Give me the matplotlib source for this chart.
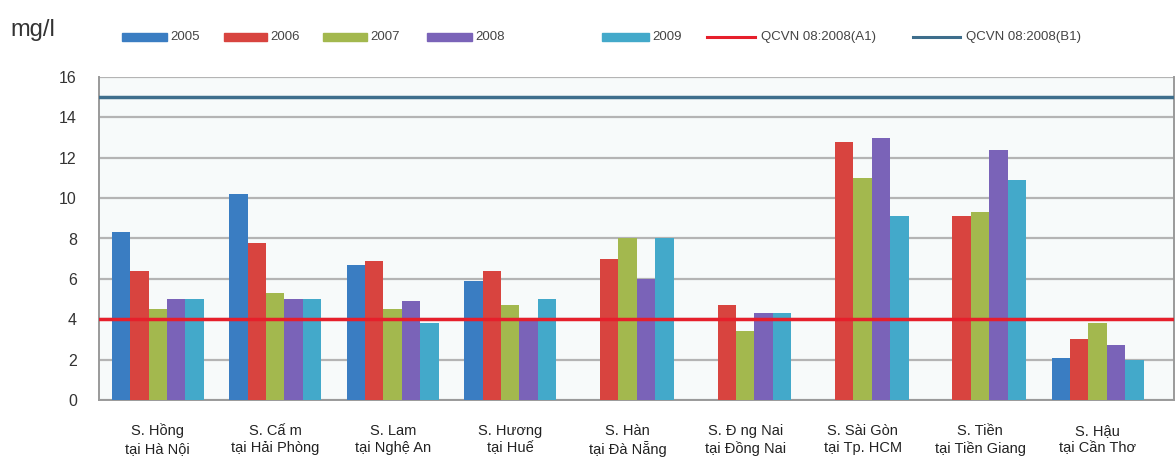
import numpy as np
import matplotlib.pyplot as plt
from matplotlib.patches import Rectangle
from matplotlib.lines import Line2D

plt.rcParams['font.family'] = ['Liberation Sans', 'DejaVu Sans']

# Sông / trạm quan trắc
stations = ['S. Hồng\ntại Hà Nội', 'S. Cấ m\ntại Hải Phòng', 'S. Lam\ntại Nghệ An',
            'S. Hương\ntại Huế', 'S. Hàn\ntại Đà Nẵng', 'S. Đ ng Nai\ntại Đồng Nai',
            'S. Sài Gòn\ntại Tp. HCM', 'S. Tiền\ntại Tiền Giang', 'S. Hậu\ntại Cần Thơ']
years = ['2005', '2006', '2007', '2008', '2009']

v2005 = [8.3, 10.2, 6.7, 5.9, np.nan, np.nan, np.nan, np.nan, 2.1]
v2006 = [6.4, 7.8, 6.9, 6.4, 7.0, 4.7, 12.8, 9.1, 3.0]
v2007 = [4.5, 5.3, 4.5, 4.7, 8.0, 3.4, 11.0, 9.3, 3.8]
v2008 = [5.0, 5.0, 4.9, 4.0, 6.0, 4.3, 13.0, 12.4, 2.7]
v2009 = [5.0, 5.0, 3.8, 5.0, 8.0, 4.3, 9.1, 10.9, 2.0]

qcvn_a1 = 4
qcvn_b1 = 15
line_labels = ['QCVN 08:2008(A1)', 'QCVN 08:2008(B1)']

colors = ['#3A7DC2', '#D8443F', '#A3B84E', '#7A63B8', '#43A9CA']
line_colors = ['#E61F2B', '#3E6E8C']
series = [v2005, v2006, v2007, v2008, v2009]

W, H = 1176, 461
fig = plt.figure(figsize=(W / 100, H / 100), dpi=100)
ax = fig.add_axes([99 / W, 1 - 400 / H, 1075 / W, 323 / H])
ax.set_facecolor('#F7FAFA')

x = np.arange(len(stations))
width = 0.157
for i, (vals, c) in enumerate(zip(series, colors)):
    ax.bar(x + (i - 2) * width, vals, width=width, color=c, zorder=3)

ax.axhline(qcvn_a1, color=line_colors[0], lw=2.5, zorder=4)
ax.axhline(qcvn_b1, color=line_colors[1], lw=2.5, zorder=4)

ax.set_xlim(-0.5, 8.65)
ax.set_ylim(0, 16)
ax.set_yticks(range(0, 17, 2))
ax.set_xticks(x)
ax.set_xticklabels(stations, fontsize=10.5, color='#222222', linespacing=1.3)
ax.tick_params(axis='x', length=0, pad=17)
ax.tick_params(axis='y', labelsize=11.5, labelcolor='#333333', length=0, pad=16)
ax.yaxis.grid(True, color='#B4B4B4', lw=1.6, zorder=0)
ax.spines['top'].set_visible(False)
for s in ['left', 'bottom', 'right']:
    ax.spines[s].set_color('#9A9A9A')
    ax.spines[s].set_linewidth(1.4)

fig.text(10 / W, 1 - 30 / H, 'mg/l', fontsize=17, color='#333333', va='center')

# légende dessinée à la main (espacement irrégulier comme l'original)
yc = 1 - 37 / H
hh = 8 / H
patch_x = [(122, 167), (224, 267), (323, 367), (427, 472), (602, 649)]
for (x0, x1), c, lab in zip(patch_x, colors, years):
    fig.patches.append(Rectangle((x0 / W, yc - hh / 2), (x1 - x0) / W, hh,
                                 transform=fig.transFigure, color=c))
    fig.text((x1 + 3) / W, yc, lab, fontsize=9.5, color='#444444', va='center')
line_x = [(707, 755), (913, 960)]
for (x0, x1), c, lab in zip(line_x, line_colors, line_labels):
    fig.lines.append(Line2D([x0 / W, x1 / W], [yc, yc], transform=fig.transFigure,
                            color=c, lw=2.2))
    fig.text((x1 + 6) / W, yc, lab, fontsize=9.5, color='#444444', va='center')

fig.savefig('out.png', dpi=100, facecolor='white')
